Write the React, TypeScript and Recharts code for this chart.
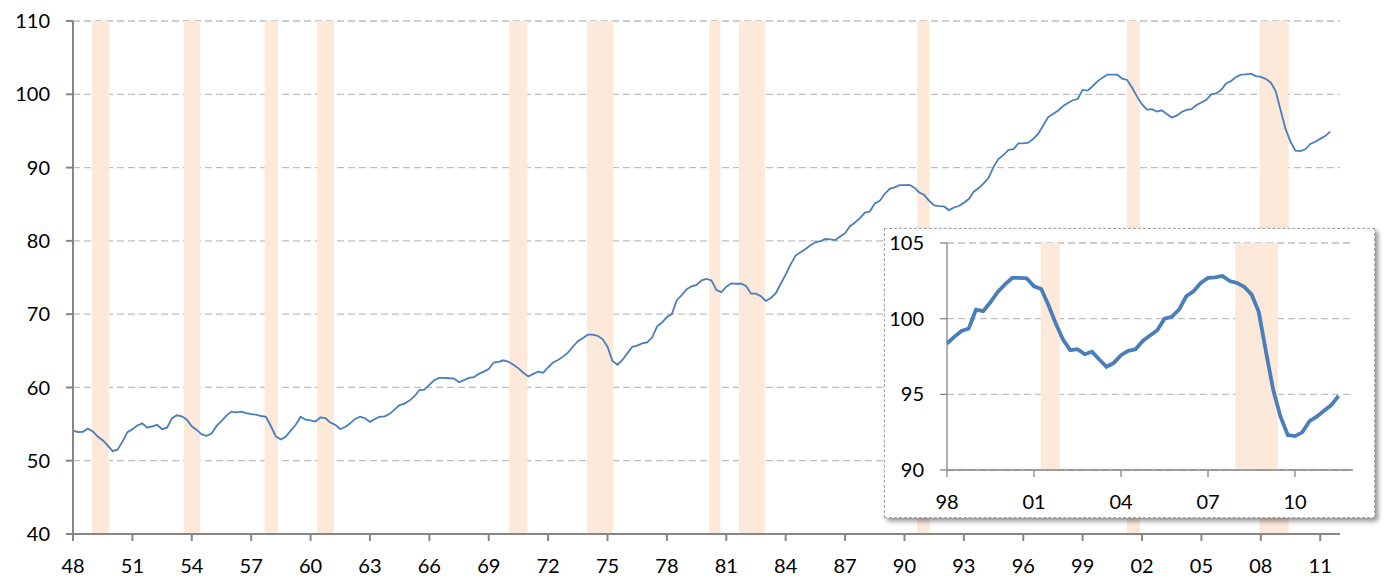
import React from 'react';
import { LineChart, Line, XAxis, YAxis, CartesianGrid, ReferenceArea } from 'recharts';

const years = [
  1948, 1949, 1950, 1951, 1952, 1953, 1954, 1955, 1956, 1957,
  1958, 1959, 1960, 1961, 1962, 1963, 1964, 1965, 1966, 1967,
  1968, 1969, 1970, 1971, 1972, 1973, 1974, 1975, 1976, 1977,
  1978, 1979, 1980, 1981, 1982, 1983, 1984, 1985, 1986, 1987,
  1988, 1989, 1990, 1991, 1992, 1993, 1994, 1995, 1996, 1997,
  1998, 1999, 2000, 2001, 2002, 2003, 2004, 2005, 2006, 2007,
  2008, 2009, 2010, 2011,
];

// quarterly values per year (Q1..Q4)
const quarterlyValues: number[][] = [
  [54.1, 53.9, 53.95, 54.4],
  [54.0, 53.3, 52.8, 52.1],
  [51.3, 51.5, 52.6, 53.9],
  [54.3, 54.8, 55.1, 54.5],
  [54.7, 54.9, 54.3, 54.5],
  [55.8, 56.2, 56.05, 55.6],
  [54.7, 54.2, 53.6, 53.4],
  [53.7, 54.75, 55.4, 56.15],
  [56.7, 56.6, 56.7, 56.5],
  [56.35, 56.3, 56.1, 56.0],
  [54.7, 53.3, 52.9, 53.3],
  [54.1, 54.9, 56.0, 55.6],
  [55.5, 55.35, 55.9, 55.8],
  [55.2, 54.9, 54.3, 54.6],
  [55.1, 55.7, 56.0, 55.8],
  [55.3, 55.7, 56.0, 56.05],
  [56.4, 57.0, 57.6, 57.8],
  [58.2, 58.8, 59.65, 59.7],
  [60.35, 61.0, 61.3, 61.3],
  [61.25, 61.2, 60.7, 61.0],
  [61.3, 61.4, 61.85, 62.15],
  [62.5, 63.4, 63.5, 63.7],
  [63.5, 63.1, 62.6, 62.0],
  [61.5, 61.85, 62.15, 62.0],
  [62.75, 63.4, 63.75, 64.2],
  [64.75, 65.55, 66.3, 66.7],
  [67.2, 67.2, 67.05, 66.6],
  [65.55, 63.6, 63.1, 63.75],
  [64.65, 65.55, 65.7, 66.0],
  [66.15, 66.8, 68.3, 68.85],
  [69.6, 70.0, 71.9, 72.6],
  [73.4, 73.8, 74.0, 74.6],
  [74.8, 74.6, 73.3, 73.0],
  [73.75, 74.2, 74.15, 74.15],
  [73.85, 72.8, 72.8, 72.45],
  [71.8, 72.2, 72.85, 74.15],
  [75.4, 76.8, 78.0, 78.45],
  [78.9, 79.4, 79.8, 79.95],
  [80.25, 80.2, 80.1, 80.6],
  [81.05, 82.0, 82.5, 83.1],
  [83.85, 84.0, 85.1, 85.45],
  [86.4, 87.1, 87.3, 87.6],
  [87.6, 87.65, 87.25, 86.6],
  [86.25, 85.45, 84.85, 84.75],
  [84.7, 84.2, 84.55, 84.75],
  [85.2, 85.7, 86.7, 87.2],
  [87.85, 88.6, 90.1, 91.2],
  [91.7, 92.4, 92.5, 93.3],
  [93.3, 93.4, 93.9, 94.6],
  [95.7, 96.85, 97.3, 97.75],
  [98.36, 98.8, 99.19, 99.35],
  [100.6, 100.5, 101.1, 101.77],
  [102.27, 102.69, 102.69, 102.67],
  [102.14, 101.96, 100.89, 99.68],
  [98.62, 97.92, 97.98, 97.65],
  [97.81, 97.3, 96.82, 97.08],
  [97.59, 97.87, 97.98, 98.53],
  [98.89, 99.24, 100.0, 100.12],
  [100.6, 101.48, 101.81, 102.36],
  [102.69, 102.73, 102.82, 102.49],
  [102.36, 102.1, 101.61, 100.45],
  [97.81, 95.28, 93.52, 92.31],
  [92.24, 92.49, 93.23, 93.52],
  [93.92, 94.29, 94.9],
];

const recessionStarts = [1948.95, 1953.61, 1957.68, 1960.34, 1970.04, 1973.96, 1980.14, 1981.64, 1990.64, 2001.23, 2007.94];
const recessionEnds = [1949.82, 1954.42, 1958.35, 1961.19, 1970.95, 1975.28, 1980.71, 1982.95, 1991.27, 2001.89, 2009.41];

const mainXTicks = [1948, 1951, 1954, 1957, 1960, 1963, 1966, 1969, 1972, 1975, 1978, 1981, 1984, 1987, 1990, 1993, 1996, 1999, 2002, 2005, 2008, 2011];
const mainYTicks = [40, 50, 60, 70, 80, 90, 100, 110];
const insetXTicks = [1998, 2001, 2004, 2007, 2010];
const insetYTicks = [90, 95, 100, 105];

const data = years.flatMap((y, i) => quarterlyValues[i].map((v, q) => ({ t: y + q / 4, v })));
const insetData = data.filter((d) => d.t >= 1998);

const recessions = recessionStarts.map((s, i) => ({ s, e: recessionEnds[i] }));
const insetRecessions = recessions.filter((r) => r.e > 1998);

const yr = (t: number) => String(Math.round(t) % 100).padStart(2, '0');

const FONT = 'Lato, "Open Sans", sans-serif';
const AXIS = '#868686';
const GRID = '#bfbfbf';
const SHADE = '#fde9d9';
const LINE = '#4a7ebb';
const tickStyle = { fill: '#000', fontSize: 20, fontFamily: FONT };

export default function App() {
  return (
    <div style={{ position: 'absolute', left: 0, top: 0, width: 1387, height: 578, background: '#fff', fontFamily: FONT }}>
      <LineChart width={1387} height={578} data={data} margin={{ top: 21, right: 47, bottom: 0, left: 0 }}>
        <CartesianGrid vertical={false} stroke={GRID} strokeDasharray="7 4" strokeWidth={1.3} />
        {recessions.map((r, i) => (
          <ReferenceArea key={i} x1={r.s} x2={r.e} fill={SHADE} fillOpacity={1} stroke="none" />
        ))}
        <XAxis
          dataKey="t"
          type="number"
          domain={[1948, 2012]}
          ticks={mainXTicks}
          tickFormatter={yr}
          interval={0}
          height={44}
          stroke={AXIS}
          strokeWidth={2}
          tickSize={7}
          tickMargin={18}
          tick={tickStyle}
        />
        <YAxis
          type="number"
          domain={[40, 110]}
          ticks={mainYTicks}
          interval={0}
          width={73}
          stroke={AXIS}
          strokeWidth={2}
          tickSize={7}
          tickMargin={16}
          tick={tickStyle}
        />
        <Line type="linear" dataKey="v" stroke={LINE} strokeWidth={1.8} dot={false} isAnimationActive={false} />
      </LineChart>

      <div
        style={{
          position: 'absolute',
          left: 884,
          top: 228,
          width: 489,
          height: 288,
          border: '1px dashed #a6a6a6',
          background: '#fff',
          boxShadow: '3px 3px 5px rgba(0,0,0,0.45)',
        }}
      >
        <LineChart width={489} height={288} data={insetData} margin={{ top: 14, right: 21, bottom: 0, left: 0 }}>
          <CartesianGrid vertical={false} stroke={GRID} strokeDasharray="7 4" strokeWidth={1.3} />
          {insetRecessions.map((r, i) => (
            <ReferenceArea key={i} x1={r.s} x2={r.e} fill={SHADE} fillOpacity={1} stroke="none" />
          ))}
          <XAxis
            dataKey="t"
            type="number"
            domain={[1998, 2012]}
            ticks={insetXTicks}
            tickFormatter={yr}
            interval={0}
            height={47}
            stroke={AXIS}
            strokeWidth={1.3}
            tickSize={7}
            tickMargin={18}
            tick={tickStyle}
          />
          <YAxis
            type="number"
            domain={[90, 105]}
            ticks={insetYTicks}
            interval={0}
            width={62}
            stroke={AXIS}
            strokeWidth={1.3}
            tickSize={7}
            tickMargin={16}
            tick={tickStyle}
          />
          <Line type="linear" dataKey="v" stroke={LINE} strokeWidth={3.8} dot={false} isAnimationActive={false} />
        </LineChart>
      </div>
    </div>
  );
}
